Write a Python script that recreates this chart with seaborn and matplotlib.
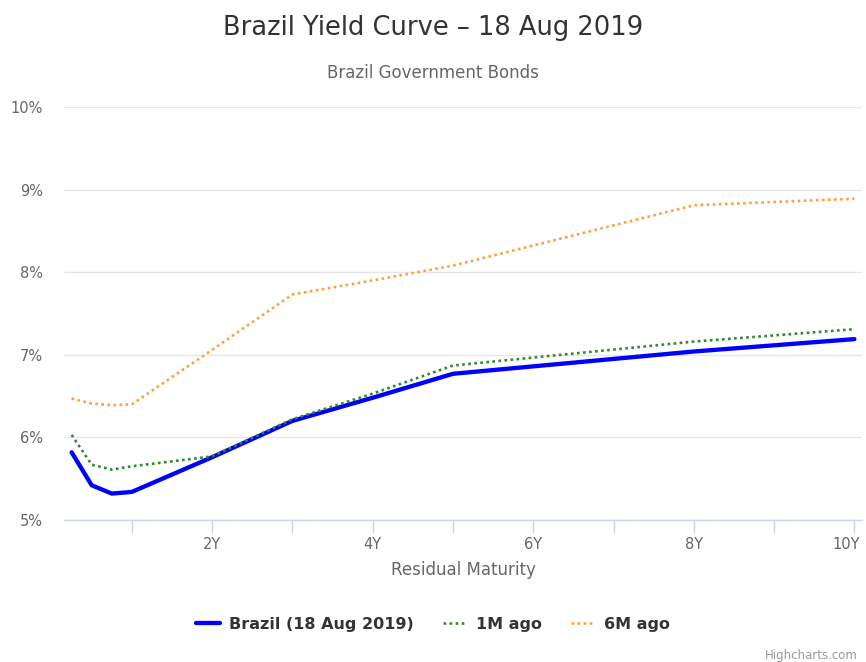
import pandas as pd
import seaborn as sns
import matplotlib
matplotlib.use('Agg')
import matplotlib.pyplot as plt
import matplotlib.transforms as mtransforms
from matplotlib.ticker import MultipleLocator, FuncFormatter

# Yield curve values (maturity in years, yield in %)
maturities = [0.25, 0.5, 0.75, 1, 2, 3, 4, 5, 8, 10]
brazil_now = [5.82, 5.42, 5.32, 5.34, 5.76, 6.20, 6.48, 6.77, 7.04, 7.19]
one_month_ago = [6.03, 5.67, 5.61, 5.65, 5.77, 6.22, 6.53, 6.87, 7.16, 7.31]
six_months_ago = [6.47, 6.41, 6.39, 6.40, 7.06, 7.73, 7.90, 8.08, 8.81, 8.89]
series_names = ['Brazil (18 Aug 2019)', '1M ago', '6M ago']

df = pd.DataFrame({
    'maturity': maturities * 3,
    'yield': brazil_now + one_month_ago + six_months_ago,
    'series': [n for n in series_names for _ in maturities],
})

sns.set_style('white')
plt.rcParams['font.family'] = ['DejaVu Sans']

fig = plt.figure(figsize=(8.66, 6.62), dpi=100)
ax = fig.add_axes([64 / 866, 1 - 520 / 662, 798 / 866, 413 / 662])

styles = {
    'Brazil (18 Aug 2019)': dict(color='#0000ff', linewidth=3.1, linestyle='-'),
    '1M ago': dict(color='#2f8a2f', linewidth=1.9, linestyle=(0, (1, 1.3))),
    '6M ago': dict(color='#ff9f40', linewidth=1.9, linestyle=(0, (1, 1.3))),
}
for name in series_names:
    sub = df[df['series'] == name]
    sns.lineplot(data=sub, x='maturity', y='yield', ax=ax, label=name,
                 **styles[name])

ax.set_xlim(0.155, 10.095)
ax.set_ylim(5, 10)

# grid / spines
ax.yaxis.set_major_locator(MultipleLocator(1))
ax.yaxis.grid(True, color='#e6e6e6', linewidth=1)
ax.xaxis.grid(False)
for s in ['top', 'right', 'left']:
    ax.spines[s].set_visible(False)
ax.spines['bottom'].set_color('#ccd6eb')
ax.spines['bottom'].set_linewidth(1)
ax.set_axisbelow(True)

ax.xaxis.set_major_locator(MultipleLocator(2))
ax.xaxis.set_minor_locator(MultipleLocator(1))
ax.xaxis.set_major_formatter(FuncFormatter(lambda v, p: f'{int(v)}Y'))
ax.yaxis.set_major_formatter(FuncFormatter(lambda v, p: f'{int(v)}%'))
ax.tick_params(axis='x', which='both', direction='out', length=9,
               color='#ccd6eb', width=1, labelsize=10.5, labelcolor='#666666',
               pad=3, bottom=True)
ax.tick_params(axis='y', length=0, labelsize=10.5, labelcolor='#666666', pad=15)

ax.set_xlabel('Residual Maturity', fontsize=12, color='#666666', labelpad=7)
ax.set_ylabel('')

# keep the 10Y label inside the figure, like highcharts does
fig.canvas.draw()
last = [t for t in ax.get_xticklabels() if t.get_text() == '10Y']
for t in last:
    t.set_ha('right')
    t.set_transform(t.get_transform() +
                    mtransforms.ScaledTranslation(6 / 100, 0, fig.dpi_scale_trans))

# titles
fig.text(0.5, 1 - 28 / 662, 'Brazil Yield Curve \u2013 18 Aug 2019',
         ha='center', va='center', fontsize=18.5, color='#333333')
fig.text(0.5, 1 - 73 / 662, 'Brazil Government Bonds',
         ha='center', va='center', fontsize=12, color='#666666')

# legend
handles, labels = ax.get_legend_handles_labels()
ax.get_legend().remove()
leg = fig.legend(handles, labels, loc='center', bbox_to_anchor=(0.5, 1 - 624 / 662),
                 ncol=3, frameon=False, handlelength=1.5, columnspacing=1.8,
                 handletextpad=0.6, prop={'weight': 'bold', 'size': 11.5})
for t in leg.get_texts():
    t.set_color('#333333')

fig.text(1 - 8 / 866, 1 - 655 / 662, 'Highcharts.com', ha='right', va='center',
         fontsize=8.5, color='#999999')

fig.savefig('out.png', dpi=100)
